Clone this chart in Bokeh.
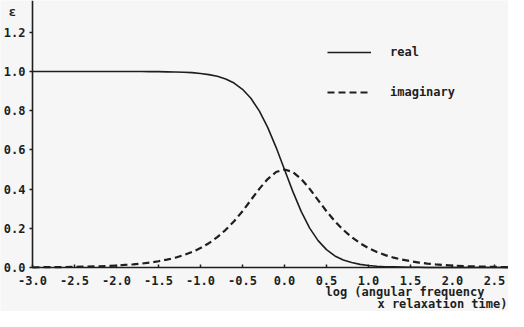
from bokeh.plotting import figure
from bokeh.models import Range1d, FixedTicker, PrintfTickFormatter, Label, Legend, LegendItem
from bokeh.embed import file_html
from bokeh.resources import INLINE

# log(angular frequency x relaxation time)
x_vals = [-3.0, -2.7, -2.5, -2.2, -2.0,
          -1.9, -1.8, -1.7, -1.6, -1.5, -1.4, -1.3, -1.2, -1.1, -1.0,
          -0.9, -0.8, -0.7, -0.6, -0.5, -0.4, -0.3, -0.2, -0.1, 0.0,
          0.1, 0.2, 0.3, 0.4, 0.5, 0.6, 0.7, 0.8, 0.9, 1.0,
          1.1, 1.2, 1.3, 1.4, 1.5, 1.6, 1.7, 1.8, 1.9,
          2.0, 2.2, 2.5, 2.7]

real_vals = [1.000, 1.000, 1.000, 1.000, 1.000,
             1.000, 1.000, 1.000, 0.999, 0.999, 0.998, 0.997, 0.996, 0.994, 0.990,
             0.984, 0.976, 0.962, 0.941, 0.909, 0.863, 0.799, 0.715, 0.613, 0.500,
             0.387, 0.285, 0.201, 0.137, 0.091, 0.059, 0.038, 0.025, 0.016, 0.010,
             0.006, 0.004, 0.003, 0.002, 0.001, 0.001, 0.000, 0.000, 0.000,
             0.000, 0.000, 0.000, 0.000]

imag_vals = [0.001, 0.002, 0.003, 0.006, 0.010,
             0.013, 0.016, 0.020, 0.025, 0.032, 0.040, 0.050, 0.063, 0.079, 0.099,
             0.124, 0.155, 0.192, 0.236, 0.287, 0.344, 0.401, 0.451, 0.487, 0.500,
             0.487, 0.451, 0.401, 0.344, 0.287, 0.236, 0.192, 0.155, 0.124, 0.099,
             0.079, 0.063, 0.050, 0.040, 0.032, 0.025, 0.020, 0.016, 0.013,
             0.010, 0.006, 0.003, 0.002]

x_ticks = [-3.0, -2.5, -2.0, -1.5, -1.0, -0.5, 0.0, 0.5, 1.0, 1.5, 2.0, 2.5]
y_ticks = [0.0, 0.2, 0.4, 0.6, 0.8, 1.0, 1.2]

FONT = "DejaVu Sans Mono"
INK = "#1e1e1e"
BG = "#f6f6f6"

X0, X1 = -3.0, 2.667
Y0, Y1 = 0.0, 1.362

p = figure(width=508, height=311, output_backend="svg", toolbar_location=None,
           x_range=Range1d(-3.381, X1), y_range=Range1d(-0.2245, Y1),
           min_border_left=0, min_border_right=0, min_border_top=0, min_border_bottom=0,
           background_fill_color=BG, border_fill_color=BG, outline_line_color=None)
p.grid.visible = False

r_real = p.line(x_vals, real_vals, line_color=INK, line_width=1.6)
r_imag = p.line(x_vals, imag_vals, line_color=INK, line_width=2.2, line_dash="7 4")

for ax in (p.xaxis[0], p.yaxis[0]):
    ax.axis_line_color = INK
    ax.axis_line_width = 1.6
    ax.major_tick_line_color = INK
    ax.major_tick_line_width = 1.5
    ax.minor_tick_line_color = None
    ax.major_label_text_font = FONT
    ax.major_label_text_font_style = "bold"
    ax.major_label_text_font_size = "12px"
    ax.major_label_text_color = INK
    ax.formatter = PrintfTickFormatter(format="%.1f")

p.xaxis.fixed_location = Y0
p.yaxis.fixed_location = X0
p.xaxis.bounds = (X0, X1)
p.yaxis.bounds = (Y0, Y1)
p.xaxis.ticker = FixedTicker(ticks=x_ticks)
p.yaxis.ticker = FixedTicker(ticks=y_ticks)
p.xaxis.major_tick_in = 3
p.xaxis.major_tick_out = 0
p.xaxis.major_label_standoff = 9
p.yaxis.major_tick_in = 0
p.yaxis.major_tick_out = 3
p.yaxis.major_label_standoff = 4

p.add_layout(Label(x=-3.24, y=1.305, text="ε", text_font=FONT, text_font_style="bold",
                   text_font_size="13px", text_color=INK, text_align="center",
                   text_baseline="middle"))
p.add_layout(Label(x=0.488, y=-0.125, text="log (angular frequency", text_font=FONT,
                   text_font_style="bold", text_font_size="12px", text_color=INK,
                   text_align="left", text_baseline="middle"))
p.add_layout(Label(x=2.655, y=-0.186, text="x relaxation time)", text_font=FONT,
                   text_font_style="bold", text_font_size="12px", text_color=INK,
                   text_align="right", text_baseline="middle"))

legend = Legend(items=[LegendItem(label="real", renderers=[r_real]),
                       LegendItem(label="imaginary", renderers=[r_imag])],
                location=(327, 209), glyph_width=44, glyph_height=20, label_standoff=19,
                spacing=20, padding=0, margin=0, border_line_alpha=0,
                background_fill_alpha=0, label_text_font=FONT,
                label_text_font_style="bold", label_text_font_size="12px",
                label_text_color=INK)
p.add_layout(legend)

open("out.html", "w").write(file_html(p, INLINE))
